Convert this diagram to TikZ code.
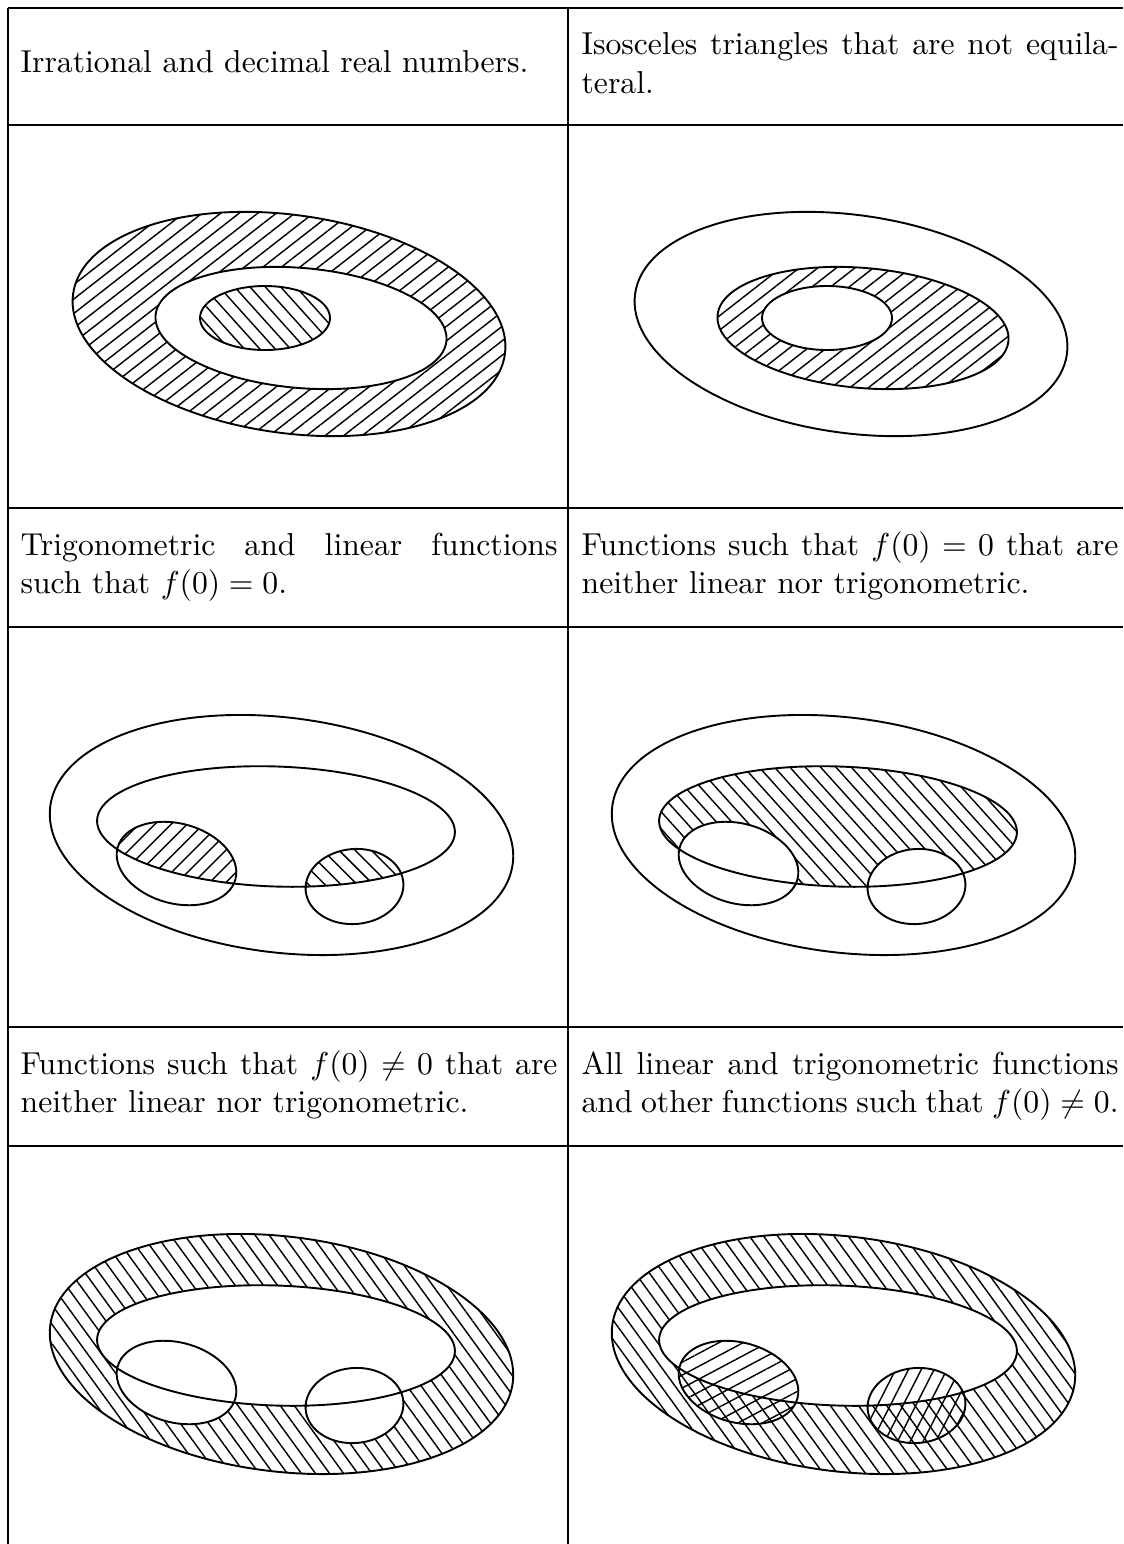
\documentclass[tikz,border=0pt]{standalone}
\usetikzlibrary{patterns.meta}
\hyphenation{equila-teral}

% set outlines (picture units are pixels)
\newcommand{\outerA}{(289,324) circle [x radius=218, y radius=109, rotate=-8]}
\newcommand{\innerA}{(301,328) circle [x radius=146, y radius=60, rotate=-5]}
\newcommand{\coreA}{(265,318) circle [x radius=65, y radius=32]}
\newcommand{\outerB}{(281.5,835) circle [x radius=233, y radius=117.5, rotate=-7]}
\newcommand{\innerB}{(276,826.5) circle [x radius=179, y radius=60, rotate=-2]}
\newcommand{\leftB}{(176.5,863.5) circle [x radius=61, y radius=40, rotate=-15]}
\newcommand{\rightB}{(354.5,886.5) circle [x radius=49, y radius=37.5, rotate=5]}

\begin{document}
\begin{tikzpicture}[
      x=0.3155pt, y=-0.3155pt,
      rule/.style={line width=0.6pt},
      set/.style={line width=0.6pt},
      cell/.style={text width=169.4pt, align=justify, inner sep=0pt, anchor=base west},
      hatch/.style={pattern={Lines[angle=#1, distance=3.6pt, line width=0.45pt]}},
    ]
    \useasboundingbox (0,0) rectangle (1123,1544);

    % table
    \foreach \y in {8,125,508,627,1027,1146}
      \draw[rule] (8,\y) -- (1123,\y);
    \draw[rule] (8,8) -- (8,1544);
    \draw[rule] (568,8) -- (568,1544);

    \node[cell] (irr)  at (20,73)  {Irrational and decimal real numbers.};
    \node[cell] (iso)  at (581,55) {Isosceles triangles that are not equilateral.};
    \node[cell] (trig) at (20,555) {Trigonometric and linear functions such that $f(0)=0$.};
    \node[cell] (zero) at (581,555) {Functions such that $f(0)=0$ that are neither linear nor trigonometric.};
    \node[cell] (nonzero) at (20,1074) {Functions such that $f(0)\neq 0$ that are neither linear nor trigonometric.};
    \node[cell] (all)  at (581,1074) {All linear and trigonometric functions and other functions such that $f(0)\neq 0$.};

    % row 1
    \fill[hatch=38, even odd rule] \outerA \innerA;
    \fill[hatch=-48] \coreA;
    \draw[set] \outerA \innerA \coreA;

    \begin{scope}[shift={(562,0)}]
      \fill[hatch=38, even odd rule] \innerA \coreA;
      \draw[set] \outerA \innerA \coreA;
    \end{scope}

    % row 2
    \begin{scope}
      \clip \innerB;
      \fill[hatch=45] \leftB;
      \fill[hatch=-45] \rightB;
    \end{scope}
    \draw[set] \outerB \innerB \leftB \rightB;

    \begin{scope}[shift={(562,0)}]
      \begin{scope}
        \clip \innerB;
        \fill[hatch=-48, even odd rule] \innerB \leftB \rightB;
      \end{scope}
      \draw[set] \outerB \innerB \leftB \rightB;
    \end{scope}

    % row 3
    \begin{scope}[shift={(0,519)}]
      \fill[hatch=-54, even odd rule] \outerB \innerB;
      \fill[white] \leftB \rightB;
      \draw[set] \outerB \innerB \leftB \rightB;
    \end{scope}

    \begin{scope}[shift={(562,519)}]
      \fill[hatch=-54, even odd rule] \outerB \innerB;
      \fill[hatch=28] \leftB;
      \fill[hatch=63] \rightB;
      \draw[set] \outerB \innerB \leftB \rightB;
    \end{scope}
  \end{tikzpicture}
\end{document}
